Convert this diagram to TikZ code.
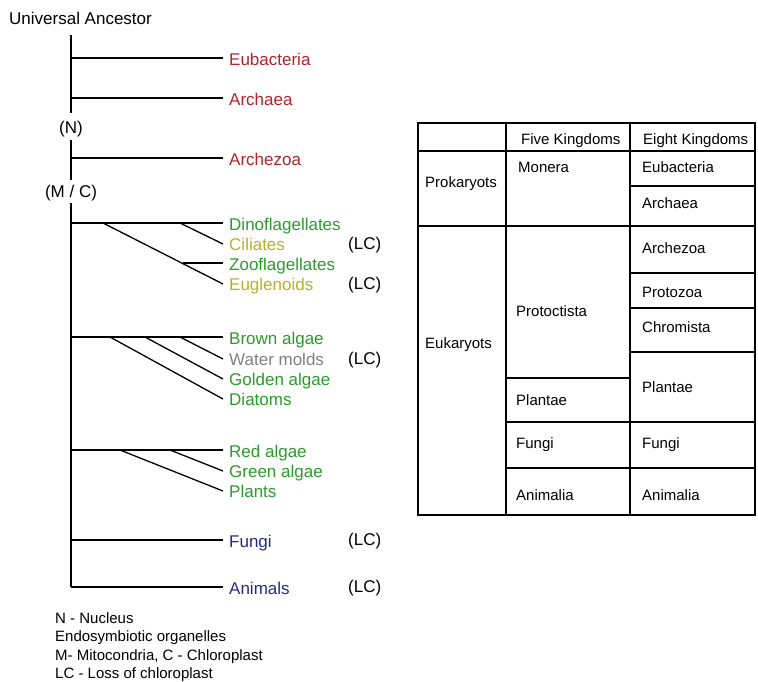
\documentclass[tikz,border=0pt]{standalone}
\usepackage{fontspec}
\setmainfont{Liberation Sans}
\definecolor{tred}{RGB}{178,36,44}
\definecolor{tgreen}{RGB}{44,155,44}
\definecolor{tolive}{RGB}{186,176,40}
\definecolor{tgray}{RGB}{128,128,128}
\definecolor{tblue}{RGB}{40,40,140}
\begin{document}
\begin{tikzpicture}[x=1pt,y=-1pt,
  br/.style={line width=1.3pt,black},
  tl/.style={line width=1.1pt,black},
  big/.style={font=\fontsize{17}{20}\selectfont,text height=12.2pt,text depth=0pt},
  small/.style={font=\fontsize{15}{18}\selectfont,text height=10.8pt,text depth=0pt},
  lab/.style={big,anchor=west,inner xsep=6pt,inner ysep=0pt},
  lc/.style={big,anchor=west,inner xsep=2pt,inner ysep=0pt},
  evtlabel/.style={big,inner sep=0pt},
  leg/.style={small,anchor=west,inner sep=0pt},
  cell/.style={small,anchor=west,inner sep=0pt}]
\useasboundingbox (0,0) rectangle (758,681);
% ---- tree ----
\node[big,anchor=west,inner sep=0pt] (ua) at (9,18) {Universal Ancestor};
\node[evtlabel] (n) at (71,127) {(N)};
\node[evtlabel] (mc) at (71,191) {(M / C)};
\coordinate (t0) at (71,35);
\coordinate (t1) at (71,113);
\coordinate (t2) at (71,140);
\coordinate (t3) at (71,180);
\coordinate (t4) at (71,203);
\coordinate (t5) at (71,587);
\draw[br] (t0) -- (t1);
\draw[br] (t2) -- (t3);
\draw[br] (t4) -- (t5);

\node[lab,text=tred] (eub) at (223,59) {Eubacteria};
\node[lab,text=tred] (arc) at (223,99) {Archaea};
\node[lab,text=tred] (arz) at (223,159) {Archezoa};
\coordinate (b1) at (71,58);
\coordinate (b2) at (71,98);
\coordinate (b3) at (71,158);
\draw[br] (b1) -- (b1 -| eub.west);
\draw[br] (b2) -- (b2 -| arc.west);
\draw[br] (b3) -- (b3 -| arz.west);

% group 1
\node[lab,text=tgreen] (din) at (223,224) {Dinoflagellates};
\node[lab,text=tolive] (cil) at (223,244) {Ciliates};
\node[lab,text=tgreen] (zoo) at (223,264) {Zooflagellates};
\node[lab,text=tolive] (eug) at (223,284) {Euglenoids};
\node[lc] (lc1) at (346,243) {(LC)};
\node[lc] (lc2) at (346,283) {(LC)};
\coordinate (g1) at (71,223);
\coordinate (g1a) at (103,223);
\coordinate (g1b) at (180,223);
\coordinate (g1c) at (183,263);
\draw[br] (g1) -- (g1 -| din.west);
\draw[br] (g1a) -- (eug.west);
\draw[br] (g1b) -- (cil.west);
\draw[br] (g1c) -- (g1c -| zoo.west);

% group 2
\node[lab,text=tgreen] (bro) at (223,338) {Brown algae};
\node[lab,text=tgray] (wat) at (223,359) {Water molds};
\node[lab,text=tgreen] (gol) at (223,379) {Golden algae};
\node[lab,text=tgreen] (dia) at (223,399) {Diatoms};
\node[lc] (lc3) at (346,358) {(LC)};
\coordinate (g2) at (71,337);
\coordinate (g2a) at (110,337);
\coordinate (g2b) at (145,337);
\coordinate (g2c) at (180,337);
\draw[br] (g2) -- (g2 -| bro.west);
\draw[br] (g2a) -- (dia.west);
\draw[br] (g2b) -- (gol.west);
\draw[br] (g2c) -- (wat.west);

% group 3
\node[lab,text=tgreen] (red) at (223,451) {Red algae};
\node[lab,text=tgreen] (gre) at (223,471) {Green algae};
\node[lab,text=tgreen] (pla) at (223,491) {Plants};
\coordinate (g3) at (71,450);
\coordinate (g3a) at (120,450);
\coordinate (g3b) at (170,450);
\draw[br] (g3) -- (g3 -| red.west);
\draw[br] (g3a) -- (pla.west);
\draw[br] (g3b) -- (gre.west);

\node[lab,text=tblue] (fun) at (223,541) {Fungi};
\node[lab,text=tblue] (ani) at (223,588) {Animals};
\node[lc] (lc4) at (346,539) {(LC)};
\node[lc] (lc5) at (346,586) {(LC)};
\coordinate (g4) at (71,540);
\draw[br] (g4) -- (g4 -| fun.west);
\draw[br] (t5) -- (t5 -| ani.west);

% legend
\node[leg] (l1) at (55,618) {N - Nucleus};
\node[leg] (l2) at (55,636) {Endosymbiotic organelles};
\node[leg] (l3) at (55,655) {M- Mitocondria, C - Chloroplast};
\node[leg] (l4) at (55,673) {LC - Loss of chloroplast};

% ---- table ----
\draw[tl] (418,123) rectangle (755,515);
\draw[tl] (506,123) -- (506,515);
\draw[tl] (630,123) -- (630,515);
\draw[tl] (418,151) -- (755,151);
\draw[tl] (630,186) -- (755,186);
\draw[tl] (418,226) -- (755,226);
\draw[tl] (630,273) -- (755,273);
\draw[tl] (630,308) -- (755,308);
\draw[tl] (630,352) -- (755,352);
\draw[tl] (506,378) -- (630,378);
\draw[tl] (506,422) -- (755,422);
\draw[tl] (506,468) -- (755,468);

\node[cell] (h1) at (521,139) {Five Kingdoms};
\node[cell] (h2) at (643,139) {Eight Kingdoms};
\node[cell] (pro) at (425,182) {Prokaryots};
\node[cell] (euk) at (425,343) {Eukaryots};
\node[cell] (mon) at (518,167) {Monera};
\node[cell] (pct) at (516,311) {Protoctista};
\node[cell] (pl5) at (516,400) {Plantae};
\node[cell] (fu5) at (516,443) {Fungi};
\node[cell] (an5) at (516,495) {Animalia};
\node[cell] (e1) at (642,167) {Eubacteria};
\node[cell] (e2) at (642,203) {Archaea};
\node[cell] (e3) at (642,248) {Archezoa};
\node[cell] (e4) at (642,292) {Protozoa};
\node[cell] (e5) at (642,327) {Chromista};
\node[cell] (e6) at (642,387) {Plantae};
\node[cell] (e7) at (642,443) {Fungi};
\node[cell] (e8) at (642,495) {Animalia};
\end{tikzpicture}
\end{document}
